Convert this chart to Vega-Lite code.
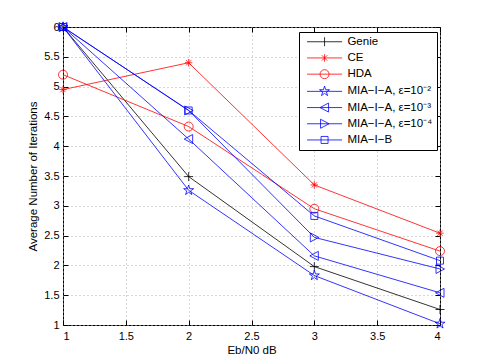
{
  "$schema": "https://vega.github.io/schema/vega-lite/v6.json",
  "width": 377,
  "height": 298,
  "autosize": "none",
  "padding": {"left": 63, "top": 27, "right": 45, "bottom": 39},
  "background": "white",
  "config": {
    "font": "Liberation Sans",
    "view": {"stroke": "black", "strokeWidth": 1},
    "axis": {
      "domain": false,
      "labelFontSize": 11,
      "labelColor": "black",
      "titleFontSize": 11.5,
      "titleFontWeight": "normal",
      "titleColor": "black",
      "tickColor": "black",
      "tickSize": -5,
      "gridColor": "#b0b0b0",
      "gridDash": [1, 3],
      "gridOpacity": 1
    },
    "legend": {
      "orient": "none",
      "legendX": 236,
      "legendY": 5,
      "columns": 1,
      "strokeColor": "black",
      "fillColor": "white",
      "padding": 4,
      "symbolOffset": 15.8,
      "labelOffset": 17.1,
      "labelAlign": "left",
      "rowPadding": 3.2,
      "labelFontSize": 11.5,
      "labelColor": "black",
      "labelLimit": 200,
      "symbolStrokeWidth": 0.8,
      "symbolSize": 100
    }
  },
  "data": {
    "values": [
      {"x": 1, "y": 6, "series": "Genie"},
      {"x": 2, "y": 3.49, "series": "Genie"},
      {"x": 3, "y": 1.98, "series": "Genie"},
      {"x": 4, "y": 1.26, "series": "Genie"},
      {"x": 1, "y": 4.95, "series": "CE"},
      {"x": 2, "y": 5.4, "series": "CE"},
      {"x": 3, "y": 3.35, "series": "CE"},
      {"x": 4, "y": 2.54, "series": "CE"},
      {"x": 1, "y": 5.2, "series": "HDA"},
      {"x": 2, "y": 4.33, "series": "HDA"},
      {"x": 3, "y": 2.95, "series": "HDA"},
      {"x": 4, "y": 2.24, "series": "HDA"},
      {"x": 1, "y": 6, "series": "MIA−I−A, ε=10⁻²"},
      {"x": 2, "y": 3.26, "series": "MIA−I−A, ε=10⁻²"},
      {"x": 3, "y": 1.83, "series": "MIA−I−A, ε=10⁻²"},
      {"x": 4, "y": 1.02, "series": "MIA−I−A, ε=10⁻²"},
      {"x": 1, "y": 6, "series": "MIA−I−A, ε=10⁻³"},
      {"x": 2, "y": 4.12, "series": "MIA−I−A, ε=10⁻³"},
      {"x": 3, "y": 2.16, "series": "MIA−I−A, ε=10⁻³"},
      {"x": 4, "y": 1.54, "series": "MIA−I−A, ε=10⁻³"},
      {"x": 1, "y": 6, "series": "MIA−I−A, ε=10⁻⁴"},
      {"x": 2, "y": 4.6, "series": "MIA−I−A, ε=10⁻⁴"},
      {"x": 3, "y": 2.47, "series": "MIA−I−A, ε=10⁻⁴"},
      {"x": 4, "y": 1.94, "series": "MIA−I−A, ε=10⁻⁴"},
      {"x": 1, "y": 6, "series": "MIA−I−B"},
      {"x": 2, "y": 4.6, "series": "MIA−I−B"},
      {"x": 3, "y": 2.83, "series": "MIA−I−B"},
      {"x": 4, "y": 2.08, "series": "MIA−I−B"}
    ]
  },
  "layer": [
    {
      "mark": {"type": "line", "strokeWidth": 0.8},
      "encoding": {
        "x": {
          "field": "x", "type": "quantitative",
          "scale": {"domain": [1, 4], "nice": false, "zero": false},
          "axis": {"orient": "bottom", "title": "Eb/N0 dB", "values": [1, 1.5, 2, 2.5, 3, 3.5, 4], "format": "~g", "labelPadding": 10, "titlePadding": 3, "grid": true}
        },
        "y": {
          "field": "y", "type": "quantitative",
          "scale": {"domain": [1, 6], "nice": false, "zero": false},
          "axis": {"orient": "left", "title": "Average Number of Iterations", "values": [1, 1.5, 2, 2.5, 3, 3.5, 4, 4.5, 5, 5.5, 6], "format": "~g", "labelPadding": 9, "titlePadding": 5, "grid": true}
        },
        "color": {
          "field": "series", "type": "nominal",
          "scale": {
            "domain": ["Genie", "CE", "HDA", "MIA−I−A, ε=10⁻²", "MIA−I−A, ε=10⁻³", "MIA−I−A, ε=10⁻⁴", "MIA−I−B"],
            "range": ["#000000", "#ff0000", "#ff0000", "#0000ff", "#0000ff", "#0000ff", "#0000ff"]
          },
          "legend": null
        }
      }
    },
    {
      "mark": {"type": "point", "filled": false, "size": 100, "strokeWidth": 0.8, "opacity": 1},
      "encoding": {
        "x": {
          "field": "x", "type": "quantitative",
          "axis": {"orient": "top", "title": null, "labels": false, "grid": false, "values": [1, 1.5, 2, 2.5, 3, 3.5, 4]}
        },
        "y": {
          "field": "y", "type": "quantitative",
          "axis": {"orient": "right", "title": null, "labels": false, "grid": false, "values": [1, 1.5, 2, 2.5, 3, 3.5, 4, 4.5, 5, 5.5, 6]}
        },
        "color": {
          "field": "series", "type": "nominal",
          "scale": {
            "domain": ["Genie", "CE", "HDA", "MIA−I−A, ε=10⁻²", "MIA−I−A, ε=10⁻³", "MIA−I−A, ε=10⁻⁴", "MIA−I−B"],
            "range": ["#000000", "#ff0000", "#ff0000", "#0000ff", "#0000ff", "#0000ff", "#0000ff"]
          },
          "legend": null
        },
        "shape": {
          "field": "series", "type": "nominal",
          "scale": {
            "domain": ["Genie", "CE", "HDA", "MIA−I−A, ε=10⁻²", "MIA−I−A, ε=10⁻³", "MIA−I−A, ε=10⁻⁴", "MIA−I−B"],
            "range": [
              "M-0.9,0H0.9M0,-0.9V0.9",
              "M-0.75,0H0.75M0,-0.75V0.75M-0.53,-0.53L0.53,0.53M-0.53,0.53L0.53,-0.53",
              "M-0.9,0A0.9,0.9,0,1,1,0.9,0A0.9,0.9,0,1,1,-0.9,0Z",
              "M0,-1.05L0.235,-0.324L0.999,-0.324L0.38,0.124L0.617,0.849L0,0.4L-0.617,0.849L-0.38,0.124L-0.999,-0.324L-0.235,-0.324Z",
              "M-0.9,0L0.8,-0.9L0.8,0.9Z",
              "M0.9,0L-0.8,-0.9L-0.8,0.9Z",
              "M-0.7,-0.7H0.7V0.7H-0.7Z"
            ]
          },
          "legend": null
        }
      }
    },
    {
      "transform": [{"filter": "datum.x > 10"}],
      "mark": {"type": "point", "filled": false, "size": 100, "strokeWidth": 0.8, "opacity": 1},
      "encoding": {
        "x": {"field": "x", "type": "quantitative", "axis": null},
        "y": {"field": "y", "type": "quantitative", "axis": null},
        "color": {
          "field": "series", "type": "nominal",
          "scale": {
            "domain": ["Genie", "CE", "HDA", "MIA−I−A, ε=10⁻²", "MIA−I−A, ε=10⁻³", "MIA−I−A, ε=10⁻⁴", "MIA−I−B"],
            "range": ["#000000", "#ff0000", "#ff0000", "#0000ff", "#0000ff", "#0000ff", "#0000ff"]
          },
          "legend": {"title": null}
        },
        "shape": {
          "field": "series", "type": "nominal",
          "scale": {
            "domain": ["Genie", "CE", "HDA", "MIA−I−A, ε=10⁻²", "MIA−I−A, ε=10⁻³", "MIA−I−A, ε=10⁻⁴", "MIA−I−B"],
            "range": [
              "M-3.5,0L3.5,0M0,-0.9L0,0.9",
              "M-3.5,0L3.5,0M0,-0.75L0,0.75M-0.53,-0.53L0.53,0.53M-0.53,0.53L0.53,-0.53",
              "M-3.5,0L3.5,0M-0.9,0A0.9,0.9,0,1,1,0.9,0A0.9,0.9,0,1,1,-0.9,0Z",
              "M-3.5,0L3.5,0M0,-1.05L0.235,-0.324L0.999,-0.324L0.38,0.124L0.617,0.849L0,0.4L-0.617,0.849L-0.38,0.124L-0.999,-0.324L-0.235,-0.324Z",
              "M-3.5,0L3.5,0M-0.9,0L0.8,-0.9L0.8,0.9Z",
              "M-3.5,0L3.5,0M0.9,0L-0.8,-0.9L-0.8,0.9Z",
              "M-3.5,0L3.5,0M-0.7,-0.7L0.7,-0.7L0.7,0.7L-0.7,0.7Z"
            ]
          },
          "legend": {"title": null}
        }
      }
    }
  ],
  "resolve": {"scale": {"color": "independent", "shape": "independent"}}
}
